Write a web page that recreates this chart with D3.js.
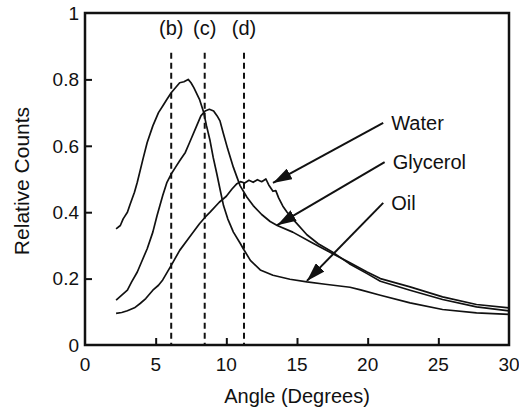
<!DOCTYPE html>
<html>
<head>
<meta charset="utf-8">
<script src="https://cdn.jsdelivr.net/npm/d3@7"></script>
<style>
  body { margin: 0; background: #fff; }
  text { font-family: "Liberation Sans", Arial, Helvetica, sans-serif; fill: #111; }
</style>
</head>
<body>
<div id="chart"></div>
<script>
// values: [angle, relative counts]
const oilData = [
    [2.2, 0.35], [2.5, 0.36], [2.7, 0.38], [3.0, 0.40], [3.2, 0.425], [3.5, 0.46], [3.7, 0.49],
    [4.1, 0.56], [4.4, 0.61], [4.8, 0.66], [5.2, 0.70], [5.5, 0.72], [5.8, 0.74], [6.1, 0.76],
    [6.4, 0.775], [6.7, 0.79], [7.0, 0.793], [7.3, 0.80], [7.5, 0.79], [7.7, 0.775], [8.1, 0.74],
    [8.4, 0.70], [8.6, 0.66], [8.85, 0.615], [9.07, 0.565], [9.33, 0.515], [9.55, 0.47], [9.8, 0.42],
    [10.1, 0.38], [10.5, 0.34], [11.0, 0.305], [11.2, 0.29], [11.7, 0.255], [12.4, 0.226],
    [13.3, 0.21], [14.5, 0.198], [15.7, 0.19], [17.0, 0.183], [18.75, 0.174], [19.5, 0.166],
    [20.9, 0.15], [23.0, 0.127], [25.3, 0.107], [27.7, 0.097], [30.0, 0.092]
];
const glycerolData = [
    [2.2, 0.135], [2.6, 0.15], [3.0, 0.165], [3.3, 0.19], [3.7, 0.22], [4.0, 0.25], [4.4, 0.29],
    [4.8, 0.34], [5.1, 0.39], [5.5, 0.45], [5.8, 0.49], [6.1, 0.515], [6.4, 0.535], [6.7, 0.555],
    [7.1, 0.58], [7.4, 0.61], [7.9, 0.66], [8.2, 0.69], [8.5, 0.705], [8.8, 0.71], [9.1, 0.705],
    [9.35, 0.69], [9.55, 0.675], [9.77, 0.64], [10.1, 0.59], [10.5, 0.535], [10.97, 0.48],
    [11.46, 0.445], [11.9, 0.42], [12.5, 0.393], [13.1, 0.372], [13.6, 0.36], [14.7, 0.34],
    [16.1, 0.307], [17.3, 0.28], [18.75, 0.248], [19.96, 0.22], [20.9, 0.20], [23.0, 0.175],
    [25.3, 0.145], [27.7, 0.122], [30.0, 0.112]
];
const waterData = [
    [2.2, 0.095], [2.6, 0.098], [3.0, 0.103], [3.5, 0.112], [3.9, 0.125], [4.3, 0.14], [4.8, 0.165],
    [5.2, 0.18], [5.5, 0.196], [6.1, 0.24], [6.7, 0.285], [7.4, 0.325], [8.1, 0.365], [8.5, 0.385],
    [8.85, 0.40], [9.5, 0.43], [10.0, 0.448], [10.4, 0.47], [10.75, 0.486], [11.0, 0.492],
    [11.3, 0.488], [11.6, 0.496], [11.9, 0.49], [12.2, 0.498], [12.5, 0.492], [12.8, 0.5],
    [13.0, 0.482], [13.3, 0.463], [13.5, 0.465], [13.7, 0.443], [14.0, 0.418], [14.3, 0.40],
    [14.9, 0.37], [15.7, 0.332], [16.5, 0.305], [17.5, 0.28], [18.7, 0.245], [19.96, 0.215],
    [20.9, 0.192], [23.0, 0.165], [25.3, 0.137], [27.7, 0.115], [30.0, 0.103]
];

// dashed markers and their labels
const markerAngles = [6.1, 8.47, 11.25];
const markerLabels = ["(b)", "(c)", "(d)"];
const markerTop = 0.88;

// annotation arrows: label, text anchor point, arrow tip (data units)
const annotations = [
    { label: "Water",    from: [21.1, 0.669], to: [13.3, 0.488] },
    { label: "Glycerol", from: [21.2, 0.551], to: [13.6, 0.361] },
    { label: "Oil",      from: [21.1, 0.428], to: [15.7, 0.193] }
];

const xTicks = [0, 5, 10, 15, 20, 25, 30];
const yTicks = [0, 0.2, 0.4, 0.6, 0.8, 1];

const width = 519, height = 412;
const margin = { top: 13, right: 10, bottom: 67, left: 85 };

const svg = d3.select("#chart")
    .append("svg")
    .attr("width", width)
    .attr("height", height);

const xScale = d3.scaleLinear()
    .domain([0, 30])
    .range([margin.left, width - margin.right]);

const yScale = d3.scaleLinear()
    .domain([0, 1])
    .range([height - margin.bottom, margin.top]);

// arrowhead
svg.append("defs").append("marker")
    .attr("id", "head")
    .attr("markerUnits", "userSpaceOnUse")
    .attr("viewBox", "0 0 19 12")
    .attr("refX", 19)
    .attr("refY", 6)
    .attr("markerWidth", 19)
    .attr("markerHeight", 12)
    .attr("orient", "auto")
    .append("path")
    .attr("d", "M0,0L19,6L0,12Z")
    .attr("fill", "#111");

// dashed lines
svg.selectAll(".marker-line")
    .data(markerAngles)
    .enter()
    .append("line")
    .attr("x1", d => xScale(d))
    .attr("x2", d => xScale(d))
    .attr("y1", yScale(markerTop))
    .attr("y2", yScale(0))
    .attr("stroke", "#111")
    .attr("stroke-width", 2)
    .attr("stroke-dasharray", "6,4");

svg.selectAll(".marker-label")
    .data(markerAngles)
    .enter()
    .append("text")
    .attr("x", d => xScale(d))
    .attr("y", yScale(0.935))
    .attr("text-anchor", "middle")
    .attr("font-size", 20)
    .text((d, i) => markerLabels[i]);

// curves
const line = d3.line()
    .x(d => xScale(d[0]))
    .y(d => yScale(d[1]))
    .curve(d3.curveLinear);

[oilData, glycerolData, waterData].forEach(series => {
    svg.append("path")
        .datum(series)
        .attr("fill", "none")
        .attr("stroke", "#111")
        .attr("stroke-width", 1.7)
        .attr("stroke-linejoin", "round")
        .attr("d", line);
});

// annotation arrows and text
annotations.forEach(a => {
    svg.append("line")
        .attr("x1", xScale(a.from[0]))
        .attr("y1", yScale(a.from[1]))
        .attr("x2", xScale(a.to[0]))
        .attr("y2", yScale(a.to[1]))
        .attr("stroke", "#111")
        .attr("stroke-width", 2)
        .attr("marker-end", "url(#head)");
    svg.append("text")
        .attr("x", xScale(a.from[0]) + 8)
        .attr("y", yScale(a.from[1]))
        .attr("dy", "0.36em")
        .attr("font-size", 20)
        .text(a.label);
});

// frame
svg.append("rect")
    .attr("x", xScale(0))
    .attr("y", yScale(1))
    .attr("width", xScale(30) - xScale(0))
    .attr("height", yScale(0) - yScale(1))
    .attr("fill", "none")
    .attr("stroke", "#111")
    .attr("stroke-width", 2.5);

// axes with inward ticks
const xAxis = d3.axisTop(xScale)
    .tickValues(xTicks.slice(1, -1))
    .tickSize(7)
    .tickFormat("");
svg.append("g")
    .attr("transform", `translate(0,${yScale(0)})`)
    .call(xAxis)
    .call(g => g.select(".domain").remove())
    .call(g => g.selectAll("line").attr("stroke", "#111").attr("stroke-width", 2));

const yAxis = d3.axisRight(yScale)
    .tickValues(yTicks.slice(1, -1))
    .tickSize(7)
    .tickFormat("");
svg.append("g")
    .attr("transform", `translate(${xScale(0)},0)`)
    .call(yAxis)
    .call(g => g.select(".domain").remove())
    .call(g => g.selectAll("line").attr("stroke", "#111").attr("stroke-width", 2));

// tick labels
svg.selectAll(".xlab")
    .data(xTicks)
    .enter()
    .append("text")
    .attr("x", d => xScale(d))
    .attr("y", yScale(0) + 26)
    .attr("text-anchor", "middle")
    .attr("font-size", 19)
    .text(d => d);

svg.selectAll(".ylab")
    .data(yTicks)
    .enter()
    .append("text")
    .attr("x", xScale(0) - 6)
    .attr("y", d => yScale(d))
    .attr("dy", "0.36em")
    .attr("text-anchor", "end")
    .attr("font-size", 19)
    .text(d => d);

// axis titles
svg.append("text")
    .attr("x", (xScale(0) + xScale(30)) / 2)
    .attr("y", 403)
    .attr("text-anchor", "middle")
    .attr("font-size", 20)
    .text("Angle (Degrees)");

svg.append("text")
    .attr("transform", `translate(29,${(yScale(0) + yScale(1)) / 2 + 2}) rotate(-90)`)
    .attr("text-anchor", "middle")
    .attr("font-size", 21)
    .text("Relative Counts");
</script>
</body>
</html>
